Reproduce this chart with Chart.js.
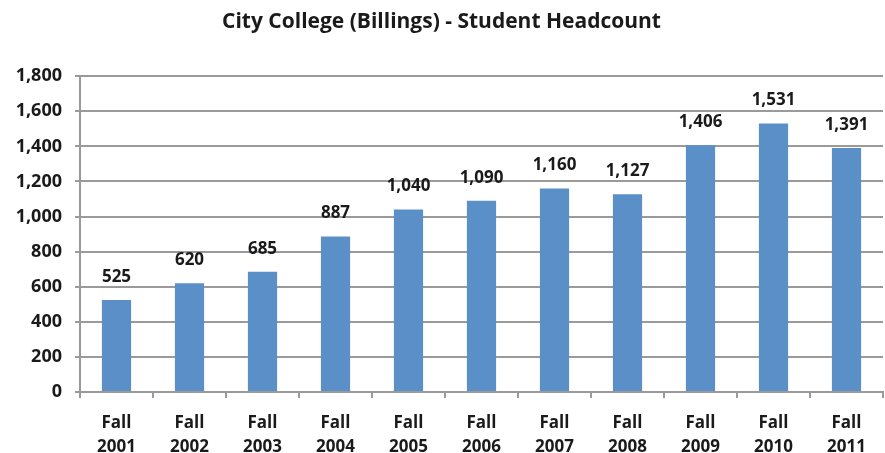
<!DOCTYPE html>
<html>
<head>
<meta charset="utf-8">
<script src="https://cdn.jsdelivr.net/npm/chart.js@4/dist/chart.umd.min.js"></script>
<style>
  html, body { margin: 0; padding: 0; background: #fff; }
  #wrap { width: 885px; height: 453px; }
</style>
</head>
<body>
<div id="wrap"><canvas id="headcount"></canvas></div>
<script>
// datos del gráfico
const categories = ['Fall 2001','Fall 2002','Fall 2003','Fall 2004','Fall 2005','Fall 2006','Fall 2007','Fall 2008','Fall 2009','Fall 2010','Fall 2011'];
const headcount = [525, 620, 685, 887, 1040, 1090, 1160, 1127, 1406, 1531, 1391];
const yTicks = [0, 200, 400, 600, 800, 1000, 1200, 1400, 1600, 1800];

const FONT = "'Open Sans', 'Liberation Sans', sans-serif";
const TEXT = '#1a1a1a';
const GRID = '#9a9a9a';
const BAR = '#5b8fc8';

function fmt(n) { return Number(n).toString().replace(/\B(?=(\d{3})+(?!\d))/g, ','); }

// etiquetas de valor encima de cada barra
const valueLabels = {
  id: 'valueLabels',
  afterDatasetsDraw(chart) {
    const ctx = chart.ctx;
    const meta = chart.getDatasetMeta(0);
    ctx.save();
    ctx.font = 'bold 17px ' + FONT;
    ctx.fillStyle = TEXT;
    ctx.textAlign = 'center';
    ctx.textBaseline = 'middle';
    meta.data.forEach((bar, i) => {
      ctx.fillText(fmt(headcount[i]), bar.x, bar.y - 23);
    });
    ctx.restore();
  }
};

new Chart(document.getElementById('headcount'), {
  type: 'bar',
  data: {
    labels: categories,
    datasets: [{ data: headcount, backgroundColor: BAR, borderWidth: 0, categoryPercentage: 1, barPercentage: 0.4 }]
  },
  options: {
    responsive: true, maintainAspectRatio: false, animation: false,
    layout: { padding: { left: 0, right: 2, top: 0, bottom: 0 } },
    plugins: {
      legend: { display: false },
      tooltip: { enabled: false },
      title: {
        display: true, text: 'City College (Billings) - Student Headcount',
        color: TEXT, font: { family: FONT, size: 21, weight: 'bold' },
        padding: { top: 9, bottom: 42 }
      }
    },
    scales: {
      x: {
        afterFit: axis => { axis.height = 61; },
        grid: { drawOnChartArea: false, drawTicks: true, tickLength: 6, color: GRID, lineWidth: 2 },
        border: { display: true, color: GRID, width: 2 },
        ticks: {
          color: TEXT, font: { family: FONT, size: 17, weight: 'bold', lineHeight: 1.4 }, padding: 13,
          maxRotation: 0, autoSkip: false,
          callback: function(v, i) { return categories[i].split(' '); }
        }
      },
      y: {
        min: 0, max: 1800,
        afterBuildTicks: axis => { axis.ticks = yTicks.map(v => ({ value: v })); },
        afterFit: axis => { axis.width = 80; },
        grid: { color: GRID, lineWidth: 2, tickLength: 5 },
        border: { display: true, color: GRID, width: 2 },
        ticks: {
          color: TEXT, font: { family: FONT, size: 18, weight: 'bold' }, padding: 13,
          callback: v => fmt(v)
        }
      }
    }
  },
  plugins: [valueLabels]
});
</script>
</body>
</html>
